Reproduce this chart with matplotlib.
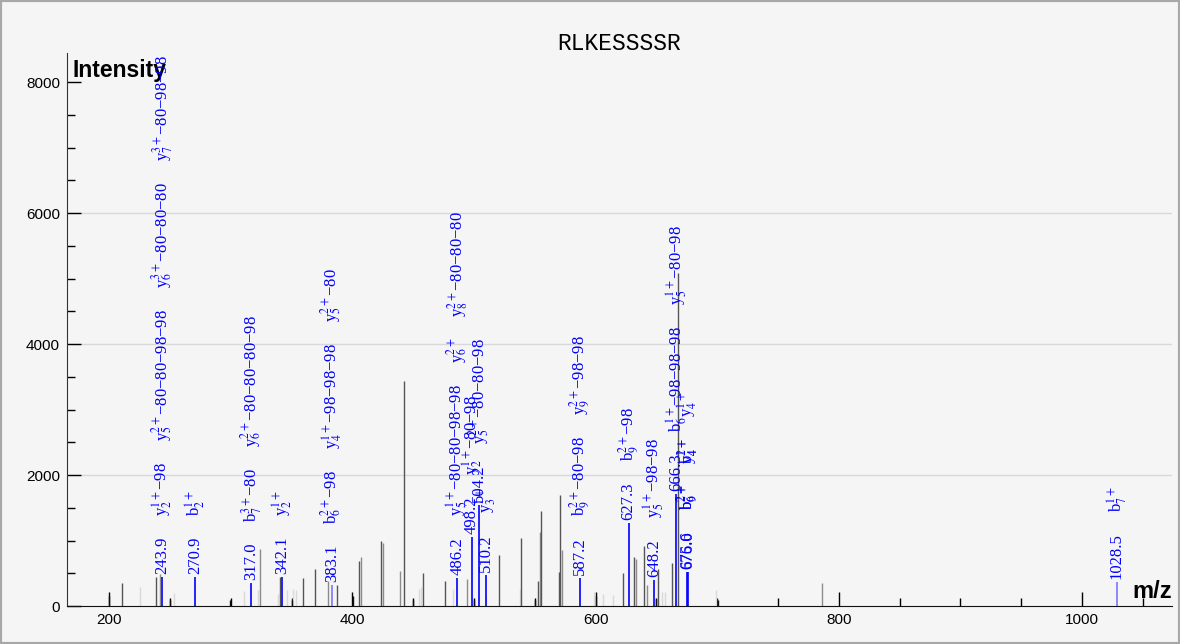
import matplotlib
matplotlib.use("Agg")
import matplotlib.pyplot as plt
from matplotlib.patches import Rectangle
from matplotlib.ticker import MultipleLocator

# unannotated peaks, grouped by the shade they are drawn in
black_mz = [200.1, 249.9, 299.8, 350.0, 400.2, 449.8, 500.3, 550.2, 600.7, 650.0, 700.5]
black_int = [153, 92, 92, 92, 160, 92, 92, 92, 153, 102, 92]

dark_mz = [211.0, 238.9, 340.7, 359.3, 369.2, 387.3, 405.4, 423.5, 442.7, 458.0, 476.2,
           520.6, 538.7, 552.4, 555.2, 570.0, 570.5, 622.3, 631.9, 639.6, 651.1, 662.9, 667.7]
dark_int = [350, 438, 438, 425, 562, 320, 682, 987, 3436, 499, 387,
            774, 1038, 377, 1455, 519, 1700, 505, 743, 916, 560, 651, 5090]

mid_mz = [241.7, 324.0, 380.3, 407.1, 425.1, 439.1, 494.3, 554.0, 572.7, 633.0, 642.4, 785.8]
mid_int = [495, 875, 387, 753, 957, 540, 407, 1130, 855, 718, 316, 346]

light_mz = [225.8, 253.7, 310.8, 322.8, 339.3, 346.2, 351.1, 353.3, 454.7, 456.4, 482.8,
            509.6, 537.6, 599.0, 606.4, 614.6, 654.6, 657.4, 698.8]
light_int = [295, 204, 234, 244, 183, 244, 265, 244, 265, 285, 260,
             163, 265, 214, 188, 173, 214, 214, 244]

# annotated (matched) peaks
blue_mz = [243.9, 270.9, 317.0, 342.1, 383.1, 486.2, 498.2, 504.2, 510.2,
           587.2, 627.3, 648.2, 666.3, 675.6, 676.0, 1028.5]
blue_int = [440, 440, 346, 438, 320, 430, 1058, 1542, 478,
            428, 1272, 397, 1710, 519, 519, 366]
M = "\u2212"
blue_labels = [
    ["y$_2^{1+}$" + M + "98", "y$_5^{2+}$" + M + "80" + M + "80" + M + "98" + M + "98",
     "y$_6^{3+}$" + M + "80" + M + "80" + M + "80", "y$_7^{3+}$" + M + "80" + M + "98" + M + "98"],
    ["b$_2^{1+}$"],
    ["b$_7^{3+}$" + M + "80", "y$_6^{2+}$" + M + "80" + M + "80" + M + "80" + M + "98"],
    ["y$_2^{1+}$"],
    ["b$_6^{2+}$" + M + "98", "y$_4^{1+}$" + M + "98" + M + "98" + M + "98", "y$_5^{2+}$" + M + "80"],
    ["y$_5^{1+}$" + M + "80" + M + "80" + M + "98" + M + "98", "y$_6^{2+}$",
     "y$_8^{2+}$" + M + "80" + M + "80" + M + "80"],
    ["y$_2^{1+}$" + M + "80" + M + "98"],
    ["y$_5^{2+}$" + M + "80" + M + "80" + M + "98"],
    ["y$_3^{1+}$"],
    ["b$_9^{2+}$" + M + "80" + M + "98", "y$_9^{2+}$" + M + "98" + M + "98"],
    ["b$_9^{2+}$" + M + "98"],
    ["y$_5^{1+}$" + M + "98" + M + "98"],
    ["b$_6^{1+}$" + M + "98" + M + "98" + M + "98", "y$_5^{1+}$" + M + "80" + M + "98"],
    ["b$_6^{2+}$", "b$_4^{2+}$", "y$_4^{1+}$"],
    ["b$_9^{2+}$", "y$_4^{1+}$"],
    ["b$_7^{1+}$"],
]
faint_blue = [383.1, 1028.5]

title = "RLKESSSSR"

plt.rcParams["mathtext.fontset"] = "stix"
plt.rcParams["font.family"] = ["Liberation Sans", "DejaVu Sans"]

BG = "#f5f5f5"
fig = plt.figure(figsize=(11.8, 6.44), dpi=100, facecolor=BG)
ax = fig.add_axes([67 / 1180, 38 / 644, 1105 / 1180, 553 / 644])
ax.set_facecolor(BG)
ax.set_xlim(165.4, 1074.0)
ax.set_ylim(0, 8443)

for y in [2000, 4000, 6000]:
    ax.axhline(y, color="#d8d8d8", lw=1, zorder=0)

ax.vlines(light_mz, 0, light_int, color="#d9d9d9", lw=1)
ax.vlines(mid_mz, 0, mid_int, color="#8c8c8c", lw=1)
ax.vlines(dark_mz, 0, dark_int, color="#555555", lw=1)
ax.vlines(black_mz, 0, black_int, color="#111111", lw=1)
for mz, inten in zip(blue_mz, blue_int):
    col = "#7878ff" if mz in faint_blue else "#0000ff"
    ax.vlines(mz, 0, inten, color=col, lw=1.2)

for s in ["top", "right"]:
    ax.spines[s].set_visible(False)
ax.spines["left"].set_color("#333333")
ax.spines["bottom"].set_color("#111111")

ax.xaxis.set_major_locator(MultipleLocator(200))
ax.xaxis.set_minor_locator(MultipleLocator(50))
ax.yaxis.set_major_locator(MultipleLocator(2000))
ax.yaxis.set_minor_locator(MultipleLocator(500))
ax.tick_params(which="major", direction="in", length=10, width=1, labelsize=11, pad=5)
ax.tick_params(which="minor", direction="in", length=6, width=1)

ax.text(6 / 1105, 0.99, "Intensity", transform=ax.transAxes, fontsize=16.5,
        fontweight="bold", ha="left", va="top")
ax.text(1.0, 0.006, "m/z", transform=ax.transAxes, fontsize=17,
        fontweight="bold", ha="right", va="bottom")
fig.text(0.525, (644 - 50) / 644, title, family="Liberation Mono", fontsize=16.5,
         ha="center", va="baseline")

# stack the labels of each matched peak above it
fig.canvas.draw()
renderer = fig.canvas.get_renderer()
per_px = 8443 / ax.get_window_extent(renderer).height
for mz, inten, labels in zip(blue_mz, blue_int, blue_labels):
    y = inten + 3 * per_px
    for lab in [f"{mz:.1f}"] + labels:
        t = ax.text(mz, y, lab, rotation=90, ha="center", va="bottom", color="#0000ff",
                    fontsize=12, family="Liberation Serif")
        h = t.get_window_extent(renderer).height
        y += (h + 21) * per_px

fig.add_artist(Rectangle((0, 0), 1, 1, transform=fig.transFigure, fill=False,
                         edgecolor="#a8a8a8", lw=3))

fig.savefig("out.png", dpi=100, facecolor=BG)
